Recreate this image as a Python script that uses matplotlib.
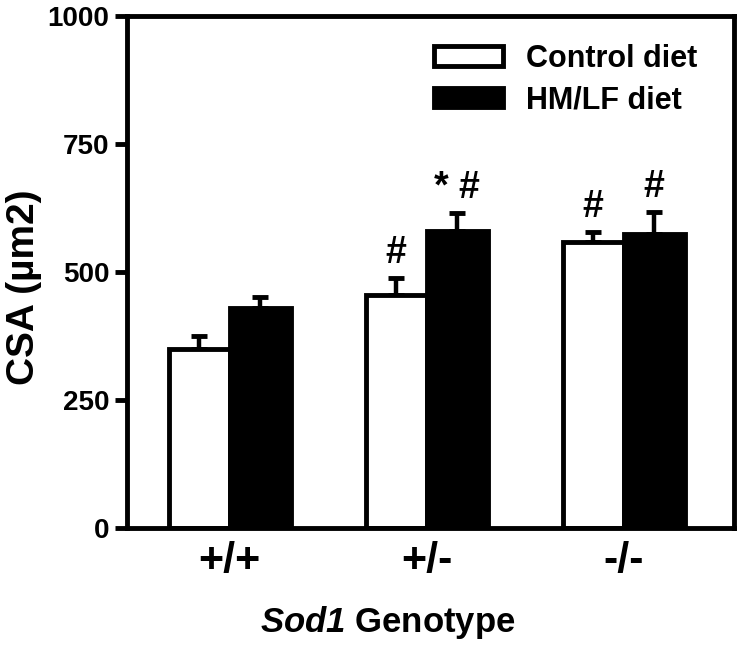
# CSA by Sod1 genotype, control vs HM/LF diet
import matplotlib
matplotlib.use("Agg")
from matplotlib import pyplot as plt
from matplotlib.patches import Patch
import numpy as np

plt.rcParams['font.family'] = ['Liberation Sans', 'DejaVu Sans']
plt.rcParams['font.weight'] = 'bold'
plt.rcParams['mathtext.fontset'] = 'custom'
plt.rcParams['mathtext.bfit'] = 'Liberation Sans:bold:italic'
plt.rcParams['mathtext.it'] = 'Liberation Sans:bold:italic'

genotypes = ["+/+", "+/-", "-/-"]
control = [350, 455, 560]
control_err = [25, 33, 18]
hmlf = [430, 580, 575]
hmlf_err = [22, 35, 42]
control_marks = ["", "#", "#"]
hmlf_marks = ["", "* #", "#"]

fig = plt.figure(figsize=(7.42, 6.52), dpi=100)
ax = fig.add_axes([0.171, 0.19, 0.818, 0.785])

x = np.arange(len(genotypes))
w = 0.31
lw = 3.5

ax.bar(x - w / 2, control, width=w, color="white", edgecolor="black", linewidth=lw, zorder=2)
ax.bar(x + w / 2, hmlf, width=w, color="black", edgecolor="black", linewidth=lw, zorder=2)
# error bars, upward only
ax.errorbar(x - w / 2, control, yerr=[np.zeros(3), control_err], fmt="none",
            ecolor="black", elinewidth=3.2, capsize=6, capthick=3.5, zorder=1)
ax.errorbar(x + w / 2, hmlf, yerr=[np.zeros(3), hmlf_err], fmt="none",
            ecolor="black", elinewidth=3.2, capsize=6, capthick=3.5, zorder=1)

for i in range(3):
    if control_marks[i]:
        ax.text(x[i] - w / 2, control[i] + control_err[i] + 14, control_marks[i],
                ha="center", va="bottom", fontsize=27, fontweight="bold")
    if hmlf_marks[i]:
        ax.text(x[i] + w / 2, hmlf[i] + hmlf_err[i] + 14, hmlf_marks[i],
                ha="center", va="bottom", fontsize=27, fontweight="bold")

ax.set_xlim(-0.523, 2.56)
ax.set_ylim(0, 1000)
ax.set_yticks([0, 250, 500, 750, 1000])
ax.set_xticks(x)
ax.set_xticklabels(genotypes, fontsize=31, fontweight="bold")
ax.tick_params(axis="y", labelsize=20, width=3.5, length=9, direction="out")
ax.tick_params(axis="x", length=0, pad=9)
for s in ax.spines.values():
    s.set_linewidth(3.5)

ax.set_ylabel("CSA (µm2)", fontsize=28, fontweight="bold")
ax.yaxis.set_label_coords(-0.14, 0.47)
ax.set_xlabel(r"$\mathbfit{Sod1}$ Genotype", fontsize=25, fontweight="bold")
ax.xaxis.set_label_coords(0.43, -0.148)

handles = [Patch(facecolor="white", edgecolor="black", linewidth=3.5),
           Patch(facecolor="black", edgecolor="black", linewidth=3.5)]
ax.legend(handles, ["Control diet", "HM/LF diet"], loc="upper right",
          frameon=False, handlelength=2.25, handleheight=0.6,
          handletextpad=0.75, labelspacing=0.38, bbox_to_anchor=(0.985, 1.0),
          prop={"weight": "bold", "size": 22})

plt.savefig("out.png", dpi=100)
